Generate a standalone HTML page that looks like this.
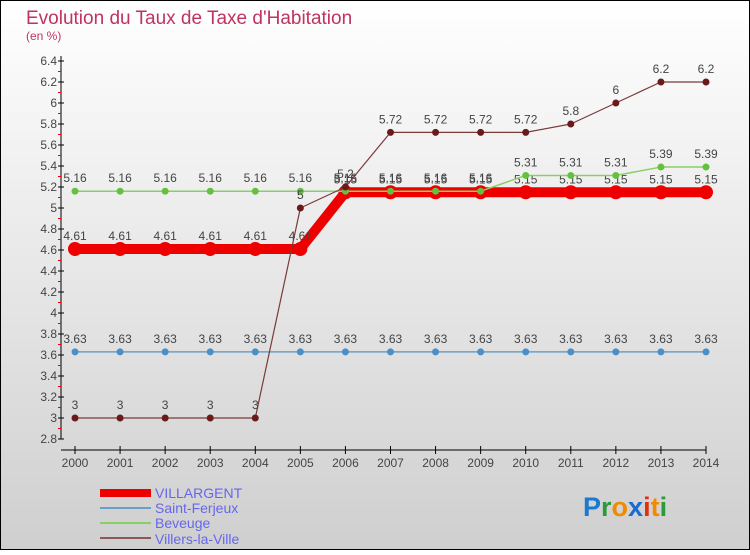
<!DOCTYPE html>
<html><head><meta charset="utf-8"><style>
html,body{margin:0;padding:0}
body{width:750px;height:550px;overflow:hidden;font-family:"Liberation Sans",sans-serif}
</style></head><body>
<svg id="chart" width="750" height="550" xmlns="http://www.w3.org/2000/svg">
<defs><linearGradient id="bg" x1="0" y1="0" x2="0" y2="1"><stop offset="0" stop-color="#ffffff"/><stop offset="1" stop-color="#cfcfcf"/></linearGradient></defs>
<rect x="0.5" y="0.5" width="749" height="549" fill="url(#bg)" stroke="#000"/>
<text x="26" y="24" font-size="19" fill="#c0335e">Evolution du Taux de Taxe d'Habitation</text>
<text x="26" y="40" font-size="12" fill="#c0335e">(en %)</text>
<g id="axes"></g><g id="series"></g>
<g>
<rect x="100" y="489" width="51" height="8" fill="#ee0000"/>
<text x="155" y="498" font-size="14" fill="#6666ee">VILLARGENT</text>
<line x1="100" y1="508" x2="151" y2="508" stroke="#6a9fc8" stroke-width="2"/>
<text x="155" y="513" font-size="14" fill="#6666ee">Saint-Ferjeux</text>
<line x1="100" y1="523" x2="151" y2="523" stroke="#88d066" stroke-width="2"/>
<text x="155" y="528" font-size="14" fill="#6666ee">Beveuge</text>
<line x1="100" y1="538" x2="151" y2="538" stroke="#8a5a5a" stroke-width="2"/>
<text x="155" y="544" font-size="14" fill="#6666ee">Villers-la-Ville</text>
</g>
<text x="583" y="516" font-size="27" font-weight="bold"><tspan fill="#1a7ad0">P</tspan><tspan fill="#2a9a3a">r</tspan><tspan fill="#f08a00">o</tspan><tspan fill="#1a6ad0">x</tspan><tspan fill="#e03010">i</tspan><tspan fill="#f08a00">t</tspan><tspan fill="#2a9a3a">i</tspan></text>
</svg>
<script>
const years=[2000,2001,2002,2003,2004,2005,2006,2007,2008,2009,2010,2011,2012,2013,2014];
const villargent=[4.61,4.61,4.61,4.61,4.61,4.61,5.15,5.15,5.15,5.15,5.15,5.15,5.15,5.15,5.15];
const saintFerjeux=[3.63,3.63,3.63,3.63,3.63,3.63,3.63,3.63,3.63,3.63,3.63,3.63,3.63,3.63,3.63];
const beveuge=[5.16,5.16,5.16,5.16,5.16,5.16,5.16,5.16,5.16,5.16,5.31,5.31,5.31,5.39,5.39];
const villers=[3,3,3,3,3,5,5.2,5.72,5.72,5.72,5.72,5.8,6,6.2,6.2];
const yTicks=[2.8,3,3.2,3.4,3.6,3.8,4,4.2,4.4,4.6,4.8,5,5.2,5.4,5.6,5.8,6,6.2,6.4];
const NS="http://www.w3.org/2000/svg";
const xS=i=>75+i*(706-75)/(years.length-1);
const yS=v=>439-(v-2.8)*(439-61)/3.6;
function mk(tag,attrs,parent){const e=document.createElementNS(NS,tag);for(const k in attrs)e.setAttribute(k,attrs[k]);parent.appendChild(e);return e;}
const ax=document.getElementById('axes');
let l=mk('line',{x1:61,y1:56,x2:61,y2:439,stroke:'#000'},ax);


l=mk('line',{x1:61,y1:450,x2:706,y2:450,stroke:'#000'},ax);


yTicks.forEach((v,i)=>{const y=yS(v);
 mk('line',{x1:58,y1:y,x2:64,y2:y,stroke:'#000'},ax);
 if(i<yTicks.length-1) mk('line',{x1:58,y1:y-10.5,x2:61,y2:y-10.5,stroke:'#e00'},ax);
 const t=mk('text',{x:57,y:y+4,'font-size':12,'text-anchor':'end',fill:'#444'},ax);t.textContent=String(v);
 
 
});
years.forEach((yr,i)=>{const x=xS(i);
 mk('line',{x1:x,y1:446,x2:x,y2:454,stroke:'#000'},ax);
 const t=mk('text',{x:x,y:467,'font-size':12,'text-anchor':'middle',fill:'#444'},ax);t.textContent=String(yr);
 
 
});
const sg=document.getElementById('series');
function draw(name,vals,color,width,r,dot){
 const g=mk('g',{},sg);
 
 
 const p=mk('polyline',{points:vals.map((v,i)=>xS(i)+','+yS(v)).join(' '),fill:'none',stroke:color,'stroke-width':width,'stroke-linejoin':'round'},g);
 
 
 vals.forEach((v,i)=>{
  const c=mk('circle',{cx:xS(i),cy:yS(v),r:r,fill:dot},g);
  
  
  const t=mk('text',{x:xS(i),y:yS(v)-9,'font-size':12,'text-anchor':'middle',fill:'#444'},g);t.textContent=String(v);
  
  
 });
}
draw('saint-ferjeux',saintFerjeux,'#6a9fc8',1.5,3.5,'#4a8fc8');
draw('villargent',villargent,'#ee0000',10,7,'#ee0000');
draw('beveuge',beveuge,'#88d066',1.5,3.5,'#66c040');
draw('villers-la-ville',villers,'#7a3a3a',1.2,3.5,'#6a1a1a');
</script>
</body></html>
